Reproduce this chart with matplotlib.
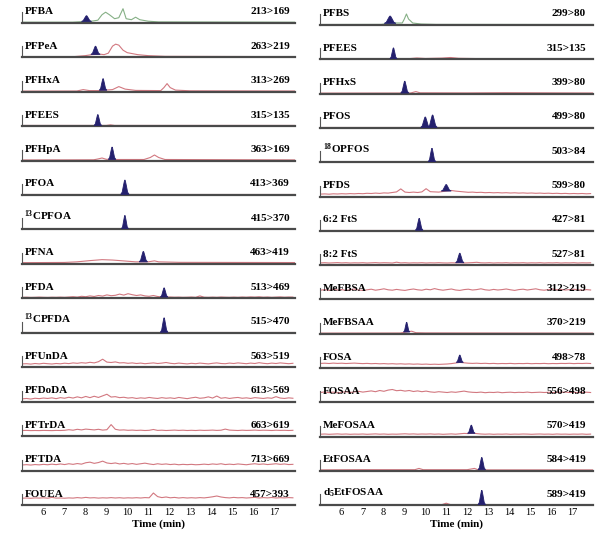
import numpy as np
import matplotlib
matplotlib.use('Agg')
import matplotlib.pyplot as plt

plt.rcParams['font.family'] = ['Liberation Serif', 'DejaVu Serif']
plt.rcParams['mathtext.fontset'] = 'custom'
plt.rcParams['mathtext.rm'] = 'Liberation Serif:bold'
plt.rcParams['mathtext.it'] = 'Liberation Serif:bold'
plt.rcParams['mathtext.bf'] = 'Liberation Serif:bold'

# ---- etiquetas ----
left_labels = ['PFBA', 'PFPeA', 'PFHxA', 'PFEES', 'PFHpA', 'PFOA', r'$^{13}$CPFOA', 'PFNA',
               'PFDA', r'$^{13}$CPFDA', 'PFUnDA', 'PFDoDA', 'PFTrDA', 'PFTDA', 'FOUEA']
left_trans = ['213>169', '263>219', '313>269', '315>135', '363>169', '413>369', '415>370', '463>419',
              '513>469', '515>470', '563>519', '613>569', '663>619', '713>669', '457>393']
right_labels = ['PFBS', 'PFEES', 'PFHxS', 'PFOS', r'$^{18}$OPFOS', 'PFDS', '6:2 FtS', '8:2 FtS',
                'MeFBSA', 'MeFBSAA', 'FOSA', 'FOSAA', 'MeFOSAA', 'EtFOSAA', r'd$_5$EtFOSAA']
right_trans = ['299>80', '315>135', '399>80', '499>80', '503>84', '599>80', '427>81', '527>81',
               '312>219', '370>219', '498>78', '556>498', '570>419', '584>419', '589>419']

# ---- trazas (tiempo, intensidad) ----
tr_pfba = [(5.0, 0.5), (7.4, 0.5), (7.8, 1.0), (8.3, 1.5), (8.6, 2.5), (8.8, 8), (8.97, 10.5), (9.15, 8),
           (9.4, 4), (9.6, 5), (9.8, 14), (9.95, 4), (10.2, 3), (10.4, 5.5), (10.6, 3), (11.0, 1.5),
           (11.5, 0.8), (18.0, 0.5)]
tr_pfpea = [(5.0, 0.5), (7.5, 0.6), (8.0, 1.5), (8.3, 2.5), (8.7, 3), (8.9, 2.5), (9.1, 4), (9.3, 11),
            (9.45, 13), (9.6, 12), (9.8, 7), (10.0, 4.5), (10.5, 2.5), (11.0, 1.5), (11.8, 0.8), (18.0, 0.5)]
tr_pfhxa = [(5.0, 0.5), (7.6, 0.6), (7.9, 2), (8.2, 1), (8.6, 1), (9.3, 2), (9.6, 5), (9.9, 2.5),
            (10.4, 1.2), (11.6, 1.0), (11.75, 4), (11.9, 8), (12.05, 4), (12.3, 1.5), (13.0, 0.8), (18.0, 0.6)]
tr_pfees_l = [(5.0, 0.6), (9.0, 0.6), (9.2, 1.2), (9.4, 0.6), (18.0, 0.6)]
tr_pfhpa = [(5.0, 0.5), (8.4, 0.7), (8.6, 1.5), (8.8, 2.5), (9.0, 1.2), (9.5, 1), (10.8, 1), (11.1, 3),
            (11.3, 5.5), (11.5, 3), (11.8, 1), (18.0, 0.6)]
tr_pfoa = [(5.0, 0.6), (18.0, 0.6)]
tr_c13pfoa = [(5.0, 0.6), (18.0, 0.6)]
tr_pfna = [(5.0, 1.2), (7.0, 1.4), (7.6, 2.0), (8.2, 3.2), (8.8, 4.2), (9.3, 3.8), (9.8, 3.0), (10.4, 2.0),
           (11.0, 2.0), (11.3, 3.0), (11.5, 2.0), (12.5, 1.5), (18.0, 1.3)]
tr_c13pfda = [(5.0, 0.5), (18.0, 0.5)]

nz_pfda = [1.0, 1.1, 0.9, 1.0, 1.2, 1.0, 0.9, 1.1, 1.0, 1.2, 1.0, 1.3, 1.6, 1.2, 2.0, 1.6, 2.4, 1.8, 2.8, 2.2,
           3.4, 2.6, 3.0, 4.2, 3.2, 4.6, 3.6, 2.8, 3.4, 2.4, 2.0, 2.8, 1.8, 1.4, 1.2, 1.3, 1.1, 1.2, 1.0, 1.1,
           1.3, 1.0, 2.4, 1.1, 1.0, 1.2, 1.0, 1.3, 1.1, 1.0, 1.2, 1.0, 1.3, 1.1, 1.4, 1.2, 1.5, 1.1, 1.3, 1.0,
           1.2, 1.4, 1.1, 1.3, 1.2]
nz_pfunda = [3.3, 3.5, 3.1, 3.7, 3.3, 3.9, 3.5, 3.2, 3.7, 3.4, 4.0, 3.6, 4.3, 3.9, 4.5, 4.1, 4.9, 4.3, 5.5, 8.0,
             5.1, 4.7, 5.3, 4.3, 4.5, 3.9, 4.3, 3.7, 4.1, 3.5, 3.9, 4.3, 3.7, 4.1, 4.7, 3.9, 3.5, 4.1, 3.7, 3.3,
             3.9, 3.5, 4.1, 3.7, 3.3, 3.9, 4.3, 3.7, 3.5, 4.1, 3.7, 4.3, 3.9, 3.5, 4.1, 3.7, 4.5, 3.9, 3.5, 4.1,
             3.7, 4.3, 3.9, 3.5, 3.9]
nz_pfdoda = [2.8, 3.2, 2.6, 3.4, 3.0, 3.6, 3.2, 3.8, 3.0, 4.0, 3.4, 4.4, 3.6, 4.8, 3.8, 5.2, 4.0, 5.4, 4.2, 5.8,
             7.4, 4.6, 5.0, 4.0, 4.4, 3.6, 4.0, 3.2, 3.8, 3.4, 4.2, 3.6, 3.2, 4.0, 3.4, 3.8, 3.2, 4.2, 3.6, 3.0,
             3.8, 4.4, 3.4, 3.8, 4.8, 3.6, 5.6, 3.4, 4.0, 3.2, 3.8, 4.2, 3.4, 3.8, 3.2, 4.0, 3.6, 3.2, 3.8, 3.4,
             5.0, 3.6, 3.2, 3.8, 3.4]
nz_pftrda = [5.6, 5.7, 5.5, 5.6, 5.5, 5.7, 5.6, 5.5, 5.7, 5.6, 5.8, 6.4, 5.9, 6.8, 6.2, 7.0, 6.6, 6.2, 6.8, 6.0,
             6.4, 11.5, 6.8, 6.0, 6.2, 5.8, 6.0, 5.7, 5.9, 5.6, 5.8, 6.6, 5.7, 5.9, 5.6, 5.8, 6.0, 5.7, 5.9, 5.6,
             5.8, 5.6, 5.9, 5.7, 5.8, 6.0, 5.7, 5.9, 7.0, 6.0, 5.8, 5.6, 5.9, 5.7, 5.8, 6.0, 5.7, 5.9, 5.8, 5.6,
             5.9, 5.7, 5.8, 5.6, 5.8]
nz_pftda = [5.6, 5.9, 5.5, 6.0, 5.7, 6.2, 5.8, 6.4, 5.9, 6.6, 6.0, 6.8, 6.2, 7.0, 6.4, 7.8, 8.4, 7.2, 8.0, 9.4,
            7.6, 7.0, 7.6, 6.6, 7.2, 6.4, 7.0, 6.2, 6.8, 7.4, 6.6, 6.0, 6.8, 6.2, 6.6, 6.0, 6.4, 5.8, 6.2, 5.9,
            6.2, 5.8, 6.0, 6.4, 6.0, 6.6, 6.2, 6.8, 6.0, 6.4, 6.0, 6.6, 6.2, 5.8, 6.4, 6.8, 6.2, 6.6, 6.0, 6.4,
            6.8, 6.2, 6.6, 6.0, 6.2]
nz_fouea = [6.8, 7.0, 6.7, 7.1, 6.9, 7.2, 6.8, 7.6, 6.9, 7.0, 6.8, 7.1, 6.9, 7.4, 7.0, 7.6, 7.1, 7.3, 6.9, 7.2,
            7.0, 7.4, 7.0, 7.3, 6.9, 7.2, 7.0, 7.3, 7.0, 7.4, 7.2, 12.0, 8.4, 7.4, 8.0, 7.2, 7.6, 7.0, 7.4, 7.0,
            7.3, 7.0, 7.4, 7.1, 7.6, 8.2, 9.0, 8.0, 7.4, 7.1, 7.6, 7.2, 7.4, 7.0, 7.3, 7.6, 7.0, 7.4, 7.1, 7.5,
            7.0, 7.3, 7.1, 7.4, 7.2]

tr_pfbs = [(5.0, 0.5), (7.9, 0.6), (8.2, 1.5), (8.6, 2), (8.9, 2), (9.0, 6), (9.1, 11), (9.2, 6), (9.4, 2),
           (9.8, 1), (10.5, 0.6), (18.0, 0.5)]
tr_pfees_r = [(5.0, 0.5), (9.2, 0.6), (9.6, 1.3), (10.0, 0.8), (10.8, 1.2), (11.2, 1.8), (11.6, 1.0),
              (12.5, 0.7), (18.0, 0.6)]
tr_pfhxs = [(5.0, 0.5), (9.3, 0.6), (9.55, 2), (9.75, 0.8), (12.0, 0.7), (13.8, 0.9), (18.0, 0.6)]
tr_pfos = [(5.0, 0.5), (18.0, 0.5)]
tr_o18pfos = [(5.0, 0.5), (18.0, 0.5)]
tr_ftS62 = [(5.0, 0.6), (18.0, 0.6)]
tr_mefbsaa = [(5.0, 0.6), (8.8, 0.7), (9.35, 2.5), (9.55, 1), (10.0, 0.8), (18.0, 0.6)]
tr_etfosaa = [(5.0, 1.0), (7.0, 1.2), (9.5, 1.2), (9.7, 2.5), (9.9, 1.2), (12.0, 1.2), (12.35, 2.5),
              (12.5, 1.3), (13.0, 1.0), (18.0, 1.0)]
tr_d5etfosaa = [(5.0, 0.5), (10.8, 0.6), (11.0, 2), (11.2, 0.6), (18.0, 0.5)]

nz_pfds = [2.4, 2.6, 2.3, 2.7, 2.5, 2.8, 2.6, 2.9, 2.7, 3.0, 2.8, 3.2, 3.0, 3.4, 3.1, 3.6, 3.4, 4.0, 4.6, 7.6,
           4.4, 4.0, 4.4, 4.0, 4.6, 7.8, 4.8, 4.6, 4.4, 5.0, 5.6, 6.0, 5.4, 5.0, 4.6, 4.2, 4.4, 4.0, 4.2, 3.8,
           4.0, 3.7, 3.9, 3.6, 3.8, 3.5, 3.7, 3.4, 3.6, 3.3, 3.5, 3.2, 3.4, 3.1, 3.3, 3.0, 3.2, 2.9, 3.1, 2.8,
           3.0, 2.8, 3.0, 2.7, 2.9]
nz_ftS82 = [2.2, 2.4, 2.1, 2.3, 2.5, 2.2, 2.4, 2.1, 2.3, 2.2, 2.4, 2.1, 2.3, 2.5, 2.2, 2.4, 2.3, 2.1, 2.9, 2.2,
            2.4, 2.1, 2.3, 2.2, 2.4, 2.1, 2.3, 2.2, 2.4, 2.2, 2.1, 2.3, 2.2, 2.4, 2.1, 2.3, 2.5, 2.8, 2.3, 2.2,
            2.4, 2.1, 2.3, 2.2, 2.4, 2.1, 2.3, 2.2, 2.4, 2.1, 2.3, 2.2, 2.4, 2.1, 2.3, 2.2, 2.4, 2.1, 2.3, 2.2,
            2.4, 2.1, 2.3, 2.2, 2.3]
nz_mefbsa = [9.2, 9.8, 9.0, 10.2, 9.4, 9.8, 9.0, 9.6, 10.4, 9.4, 9.0, 9.6, 10.2, 9.2, 9.8, 10.6, 9.6, 9.2, 10.0, 9.4,
             9.0, 9.8, 10.4, 9.6, 9.2, 10.2, 9.6, 10.8, 9.8, 9.2, 9.8, 10.4, 9.4, 9.0, 9.8, 10.2, 9.4, 9.8, 10.6, 9.6,
             9.2, 10.0, 9.4, 9.8, 10.4, 9.6, 9.0, 9.8, 10.2, 9.4, 10.0, 10.6, 9.6, 9.2, 9.8, 10.4, 9.6, 10.0, 9.4, 9.8,
             10.2, 9.6, 9.2, 9.8, 9.4]
nz_fosa = [4.6, 4.8, 4.5, 4.9, 4.6, 4.8, 4.5, 4.7, 4.9, 4.6, 4.4, 4.6, 4.3, 4.5, 4.2, 4.4, 4.1, 4.3, 4.0, 4.2,
           3.9, 4.1, 3.8, 4.0, 3.7, 3.9, 3.6, 3.8, 3.6, 3.8, 4.0, 4.4, 5.0, 5.6, 5.2, 4.8, 4.6, 4.8, 4.5, 4.7,
           4.4, 4.6, 4.3, 4.5, 4.4, 4.6, 4.3, 4.5, 4.4, 4.6, 4.3, 4.5, 4.4, 4.6, 4.3, 4.5, 4.4, 4.6, 4.5, 4.7,
           4.4, 4.6, 4.5, 4.7, 4.5]
nz_fosaa = [9.8, 10.4, 9.6, 10.2, 9.4, 10.0, 10.6, 9.8, 10.4, 11.0, 10.2, 10.8, 11.4, 10.6, 11.8, 11.0, 12.2, 12.8,
            11.6, 12.0, 11.2, 11.8, 10.8, 11.4, 10.6, 11.2, 10.4, 10.0, 10.6, 10.2, 9.8, 10.4, 10.0, 10.6, 11.2,
            10.4, 10.0, 9.8, 10.2, 9.6, 10.0, 9.8, 10.2, 9.6, 9.9, 10.1, 9.7, 10.0, 9.8, 10.2, 9.7, 9.9, 10.1, 9.8,
            10.0, 9.7, 10.1, 9.9, 10.2, 9.8, 10.0, 9.7, 9.9, 10.1, 9.8]
nz_mefosaa = [2.4, 2.6, 2.3, 2.5, 2.7, 2.4, 2.6, 2.3, 2.5, 2.4, 2.6, 2.3, 2.5, 2.7, 2.4, 2.6, 2.3, 2.5, 2.4, 2.6,
              2.8, 2.5, 2.7, 2.4, 2.6, 2.5, 2.7, 2.4, 2.6, 2.3, 2.5, 2.7, 2.4, 2.8, 3.2, 3.0, 3.4, 3.0, 2.6, 2.4,
              2.6, 2.3, 2.5, 2.4, 2.6, 2.3, 2.5, 2.4, 2.6, 2.5, 2.3, 2.5, 2.6, 2.4, 2.5, 2.3, 2.6, 2.4, 2.5, 2.3,
              2.5, 2.4, 2.6, 2.3, 2.5]

left_traces = [tr_pfba, tr_pfpea, tr_pfhxa, tr_pfees_l, tr_pfhpa, tr_pfoa, tr_c13pfoa, tr_pfna,
               nz_pfda, tr_c13pfda, nz_pfunda, nz_pfdoda, nz_pftrda, nz_pftda, nz_fouea]
right_traces = [tr_pfbs, tr_pfees_r, tr_pfhxs, tr_pfos, tr_o18pfos, nz_pfds, tr_ftS62, nz_ftS82,
                nz_mefbsa, tr_mefbsaa, nz_fosa, nz_fosaa, nz_mefosaa, tr_etfosaa, tr_d5etfosaa]

# ---- picos (tiempo de retencion, altura, semiancho) ----
left_peaks = [[(8.06, 7, 0.24)], [(8.49, 11, 0.22)], [(8.85, 13, 0.18)], [(8.6, 11.5, 0.18)],
              [(9.28, 13.5, 0.18)], [(9.89, 15, 0.2)], [(9.89, 14, 0.17)], [(10.77, 12.5, 0.2)],
              [(11.76, 10.5, 0.18)], [(11.76, 15, 0.18)], [], [], [], [], []]
right_peaks = [[(8.32, 9, 0.28)], [(8.48, 11.5, 0.17)], [(9.02, 12.5, 0.19)],
               [(10.0, 11, 0.22), (10.35, 13, 0.22)],
               [(10.32, 14, 0.18)], [(11.0, 12, 0.24)], [(9.71, 12.5, 0.18)], [(11.65, 12, 0.2)],
               [], [(9.11, 11.5, 0.15)], [(11.65, 13, 0.17)], [], [(12.2, 11.5, 0.18)],
               [(12.7, 13.5, 0.18)], [(12.7, 15, 0.18)]]

green_rows = [0]
navy = '#24206e'
pink = '#d27880'
green = '#86b086'

W, H = 603, 538
fig = plt.figure(figsize=(W / 100, H / 100), dpi=100)

col_x = [21.7, 320.0]
col_w = [273.3, 272.7]
col_y0 = [22.7, 25.0]
col_dy = [34.45, 34.3]
col_tx = [0.982, 0.975]
AX_H = 26.0


def trace_xy(tr):
    if isinstance(tr[0], tuple):
        arr = np.array(tr)
        return arr[:, 0], arr[:, 1]
    y = np.array(tr, dtype=float)
    return np.linspace(5.0, 17.9, len(y)), y


def peak_shape(c, h, w, b):
    k = np.array([-1, -0.65, -0.35, -0.1, 0, 0.1, 0.35, 0.65, 1.0])
    f = np.array([0, 0.15, 0.6, 0.95, 1.0, 0.95, 0.6, 0.15, 0])
    return c + k * w, b + f * (h - b)


for col, (labels, trans, traces, peaks) in enumerate(
        [(left_labels, left_trans, left_traces, left_peaks),
         (right_labels, right_trans, right_traces, right_peaks)]):
    for r in range(len(labels)):
        yb = col_y0[col] + col_dy[col] * r
        ax = fig.add_axes([col_x[col] / W, 1 - yb / H, col_w[col] / W, AX_H / H])
        ax.set_xlim(4.97, 18.0)
        ax.set_ylim(0, AX_H)
        t, y = trace_xy(traces[r])
        color = green if r in green_rows else pink
        ax.plot(t, y, color=color, lw=0.8, zorder=2)
        for (c, h, w) in peaks[r]:
            b = np.interp(c, t, y)
            px, py = peak_shape(c, h, w, b)
            ax.fill(px, py, color=navy, lw=0.6, zorder=3)

        for s in ['top', 'right']:
            ax.spines[s].set_visible(False)
        ax.spines['left'].set_bounds(0, 11)
        ax.spines['left'].set_color('#555555')
        ax.spines['left'].set_linewidth(0.8)
        ax.spines['bottom'].set_color('#4a4a4a')
        ax.spines['bottom'].set_linewidth(1.6)
        ax.set_yticks([])
        ax.set_xticks(range(6, 18))
        ax.tick_params(axis='x', length=0, pad=2, labelsize=7.5)
        if r < len(labels) - 1:
            ax.set_xticklabels([])
        else:
            ax.set_xlabel('Time (min)', fontsize=8, fontweight='bold', labelpad=2)
        ax.patch.set_alpha(0)

        ax.text(0.01, 6.5, labels[r], transform=ax.get_yaxis_transform(), fontsize=8,
                fontweight='bold', ha='left', va='bottom', zorder=4)
        ax.text(col_tx[col], 6.5, trans[r], transform=ax.get_yaxis_transform(), fontsize=8,
                fontweight='bold', ha='right', va='bottom', zorder=4)

fig.savefig('out.png', dpi=100)
